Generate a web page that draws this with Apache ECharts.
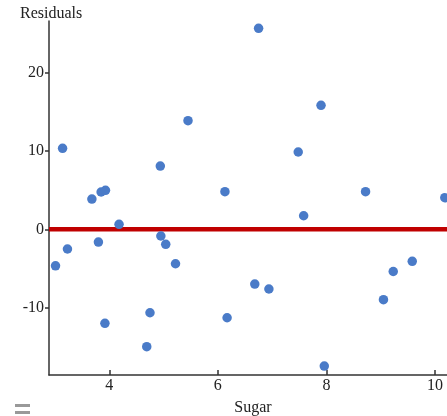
<!DOCTYPE html>
<html>
<head>
<meta charset="utf-8">
<script src="https://cdn.jsdelivr.net/npm/echarts@6/dist/echarts.min.js"></script>
<style>
  html, body { margin: 0; padding: 0; background: #fff; }
  #chart { width: 447px; height: 416px; }
</style>
</head>
<body>
<div id="chart"></div>
<script>
// Sugar content vs. residuals of the fitted model
const sugar = [3.14, 3.23, 3.01, 3.68, 3.85, 3.93, 3.80, 3.92, 4.18, 4.75,
               4.69, 4.94, 4.95, 5.04, 5.22, 5.45, 6.13, 6.17, 6.68, 6.94,
               6.75, 7.48, 7.58, 7.90, 7.96, 8.72, 9.05, 9.23, 9.58, 10.18];
const residuals = [10.33, -2.51, -4.66, 3.86, 4.76, 4.97, -1.62, -11.99, 0.64, -10.64,
                   -14.97, 8.07, -0.85, -1.91, -4.39, 13.85, 4.80, -11.28, -6.98, -7.61,
                   25.64, 9.86, 1.73, 15.82, -17.44, 4.80, -8.98, -5.38, -4.08, 4.03];
const xTicks = [4, 6, 8, 10];
const yTicks = [-10, 0, 10, 20];
const xRange = [2.89, 10.22];
const yRange = [-18.58, 26.57];
const zeroLine = [[xRange[0], 0], [xRange[1], 0]];

const points = sugar.map((s, i) => [s, residuals[i]]);

const serif = '"Liberation Serif", "DejaVu Serif", serif';
const axisColor = '#333';

const chart = echarts.init(document.getElementById('chart'), null, { renderer: 'canvas' });
chart.setOption({
  animation: false,
  backgroundColor: '#fff',
  grid: { left: 49, top: 21, right: 0, bottom: 41, containLabel: false, outerBoundsMode: 'none' },
  xAxis: {
    type: 'value',
    min: xRange[0], max: xRange[1],
    name: 'Sugar',
    nameLocation: 'middle',
    nameGap: 25,
    nameTextStyle: { fontFamily: serif, fontSize: 16, color: '#222', padding: [0, 0, 0, 10] },
    axisLine: { show: true, onZero: false, lineStyle: { color: axisColor, width: 1.5 } },
    axisTick: { show: true, inside: true, customValues: xTicks, length: 5, lineStyle: { color: axisColor, width: 1.5 } },
    axisLabel: { customValues: xTicks, fontFamily: serif, fontSize: 16, color: '#222', margin: 3 },
    splitLine: { show: false }
  },
  yAxis: {
    type: 'value',
    min: yRange[0], max: yRange[1],
    axisLine: { show: true, onZero: false, lineStyle: { color: axisColor, width: 1.5 } },
    axisTick: { show: true, customValues: yTicks, length: 4, lineStyle: { color: axisColor, width: 1.5 } },
    axisLabel: { customValues: yTicks, fontFamily: serif, fontSize: 16, color: '#222', margin: 5 },
    splitLine: { show: false }
  },
  graphic: [
    { type: 'text', left: 20, top: 6, style: { text: 'Residuals', font: '16px ' + serif, fill: '#222' } },
    { type: 'rect', left: 15, top: 404, shape: { width: 15, height: 3 }, style: { fill: '#999' } },
    { type: 'rect', left: 15, top: 411, shape: { width: 15, height: 3 }, style: { fill: '#999' } }
  ],
  series: [
    {
      type: 'line',
      data: zeroLine,
      symbol: 'none',
      lineStyle: { color: '#c00000', width: 4.5 },
      z: 2,
      silent: true
    },
    {
      type: 'scatter',
      data: points,
      symbol: 'circle',
      symbolSize: 9.5,
      itemStyle: { color: '#4a7bc8', opacity: 1 },
      z: 3,
      clip: false
    }
  ]
});
</script>
</body>
</html>
